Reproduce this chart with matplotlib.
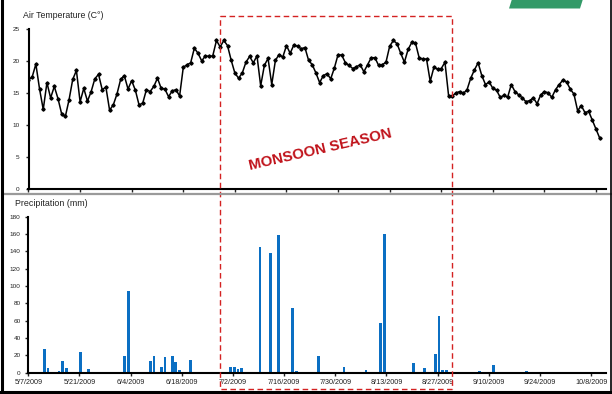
import numpy as np
import pandas as pd
import matplotlib
matplotlib.use('Agg')
import matplotlib.pyplot as plt
from matplotlib.patches import Polygon, Rectangle

plt.rcParams['font.family'] = ['Liberation Sans', 'DejaVu Sans']

# daily mean air temperature (C), starting 5/7/2009
temp_c = [
    17.0, 17.5, 19.5, 15.6, 12.4, 16.6, 14.2, 16.0, 14.1, 11.7,
    11.3, 13.9, 17.1, 18.5, 13.6, 15.7, 13.7, 15.2, 17.2, 17.9,
    15.5, 15.9, 12.3, 13.1, 14.8, 17.1, 17.7, 15.6, 16.9, 15.4,
    13.1, 13.4, 15.5, 15.2, 16.0, 17.3, 15.7, 15.6, 14.4, 15.3,
    15.5, 14.5, 19.0, 19.4, 19.7, 22.0, 21.2, 20.0, 20.8, 20.7,
    20.8, 23.2, 22.2, 23.2, 22.4, 20.1, 18.1, 17.3, 18.1, 19.8,
    20.7, 19.7, 20.8, 16.1, 19.3, 20.4, 16.3, 20.1, 21.0, 20.6,
    22.4, 21.2, 22.5, 22.3, 21.9, 22.1, 20.1, 19.4, 18.1, 16.6,
    17.7, 18.0, 17.2, 18.9, 21.0, 20.9, 19.7, 19.3, 18.8, 19.1,
    19.4, 18.3, 19.4, 20.5, 20.5, 19.3, 19.4, 19.8, 22.3, 23.2,
    22.7, 21.2, 19.8, 21.8, 22.9, 22.8, 20.5, 20.3, 20.3, 16.8,
    19.0, 18.7, 18.8, 19.8, 14.5, 14.5, 15.0, 15.2, 14.9, 15.5,
    17.3, 18.6, 19.7, 17.7, 16.3, 16.7, 15.7, 15.4, 14.3, 14.6,
    14.3, 16.3, 15.2, 14.7, 14.2, 13.6, 13.8, 14.2, 13.3, 14.7,
    15.2, 15.0, 14.3, 15.5, 16.3, 17.0, 16.7, 15.6, 14.8, 12.2,
    13.0, 11.9, 12.1, 10.7, 9.3, 7.9,
]

# rainy days and daily precipitation (mm)
rain_dates = [
    '2009-05-11', '2009-05-12', '2009-05-15', '2009-05-16', '2009-05-17',
    '2009-05-21', '2009-05-23', '2009-06-02', '2009-06-03', '2009-06-09',
    '2009-06-10', '2009-06-11', '2009-06-12', '2009-06-13', '2009-06-14',
    '2009-06-15', '2009-06-16', '2009-06-17', '2009-06-20', '2009-07-01',
    '2009-07-02', '2009-07-03', '2009-07-04', '2009-07-05', '2009-07-07',
    '2009-07-09', '2009-07-12', '2009-07-13', '2009-07-14', '2009-07-18',
    '2009-07-19', '2009-07-25', '2009-08-01', '2009-08-07', '2009-08-11',
    '2009-08-12', '2009-08-20', '2009-08-23', '2009-08-26', '2009-08-27',
    '2009-08-28', '2009-08-29', '2009-08-30', '2009-09-07', '2009-09-11',
    '2009-09-20', '2009-09-27', '2009-10-06',
]
rain_mm = [
    27, 6, 2, 14, 6,
    24, 4, 19, 94, 14,
    19, 1, 7, 18, 1,
    19, 12, 3, 15, 7,
    7, 4, 6, 0.5, 0.5,
    145, 138, 1, 159, 75,
    2, 19, 7, 3, 57,
    160, 11, 6, 22, 66,
    3, 3, 1, 2, 9,
    2, 1, 0.5,
]

tick_dates = ['2009-05-07', '2009-05-21', '2009-06-04', '2009-06-18',
              '2009-07-02', '2009-07-16', '2009-07-30', '2009-08-13',
              '2009-08-27', '2009-09-10', '2009-09-24', '2009-10-08']
tick_labels = ['5/7/2009', '5/21/2009', '6/4/2009', '6/18/2009',
               '7/2/2009', '7/16/2009', '7/30/2009', '8/13/2009',
               '8/27/2009', '9/10/2009', '9/24/2009', '10/8/2009']

W, H = 612, 394
fig = plt.figure(figsize=(W / 100, H / 100), dpi=100)


def box(left, top, right, bottom):
    # pixel box -> figure fraction [l, b, w, h]
    return [left / W, 1 - bottom / H, (right - left) / W, (bottom - top) / H]


start = pd.Timestamp('2009-05-07')
days = pd.date_range(start, periods=len(temp_c), freq='D')
ticks = pd.to_datetime(tick_dates)


def style_axes(ax):
    for s in ['top', 'right']:
        ax.spines[s].set_visible(False)
    for s in ['left', 'bottom']:
        ax.spines[s].set_linewidth(1.5)
        ax.spines[s].set_color('black')
    ax.tick_params(direction='out', length=2.5, width=1, pad=2, colors='#222222')
    ax.patch.set_visible(False)


# air temperature panel
ax_t = fig.add_axes(box(28.5, 29, 606, 188.6))
ax_t.plot(days, temp_c, color='black', lw=1.1, marker='D', ms=1.7)
ax_t.set_xlim(start, start + pd.Timedelta(days=156.7))
ax_t.set_ylim(0, 25)
ax_t.set_yticks(np.arange(0, 26, 5))
ax_t.set_xticks(ticks)
ax_t.set_xticklabels([])
style_axes(ax_t)
ax_t.tick_params(axis='y', labelsize=4.6, pad=4)

# precipitation panel
ax_p = fig.add_axes(box(28.3, 216.7, 605.7, 372.7))
ax_p.bar(pd.to_datetime(rain_dates), rain_mm, width=0.75, align='edge',
         color='#0b6fc3')
ax_p.set_xlim(start, start + pd.Timedelta(days=158))
ax_p.set_ylim(0, 180)
ax_p.set_yticks(np.arange(0, 181, 20))
ax_p.set_xticks(ticks)
ax_p.set_xticklabels(tick_labels)
style_axes(ax_p)
ax_p.tick_params(axis='y', labelsize=4.6, pad=3)
ax_p.tick_params(axis='x', labelsize=5.2, pad=2)

fig.text(22.7 / W, 1 - 16 / H, 'Air Temperature (C°)', fontsize=6.3,
         va='center', ha='left', color='#222222')
fig.text(15 / W, 1 - 204 / H, 'Precipitation (mm)', fontsize=6.4,
         va='center', ha='left', color='#222222')

# overlay in pixel coordinates for frame, separator and season box
ov = fig.add_axes([0, 0, 1, 1], zorder=5)
ov.set_xlim(0, W)
ov.set_ylim(H, 0)
ov.axis('off')
ov.patch.set_visible(False)

ov.plot([4, 611], [194, 194], color='#9a9a9a', lw=1.6, clip_on=False)
ov.plot([2, 2], [0, 392], color='black', lw=2.2, clip_on=False)
ov.plot([1, 611], [392, 392], color='black', lw=2.2, clip_on=False)
ov.plot([611, 611], [0, 392], color='black', lw=1.2, clip_on=False)

ov.add_patch(Rectangle((220, 16), 232, 373, fill=False, ec='#d42222',
                       lw=1.0, ls=(0, (4, 2.5))))
ov.add_patch(Polygon([(509, 8.5), (580, 8.5), (583, -1), (512, -1)],
                     closed=True, fc='#339a68', ec='none'))
ov.text(320.7, 150, 'MONSOON SEASON', rotation=13, ha='center', va='center',
        rotation_mode='anchor', fontweight='bold', fontsize=10.8,
        color='#c0121a')

fig.savefig('out.png', dpi=100)
